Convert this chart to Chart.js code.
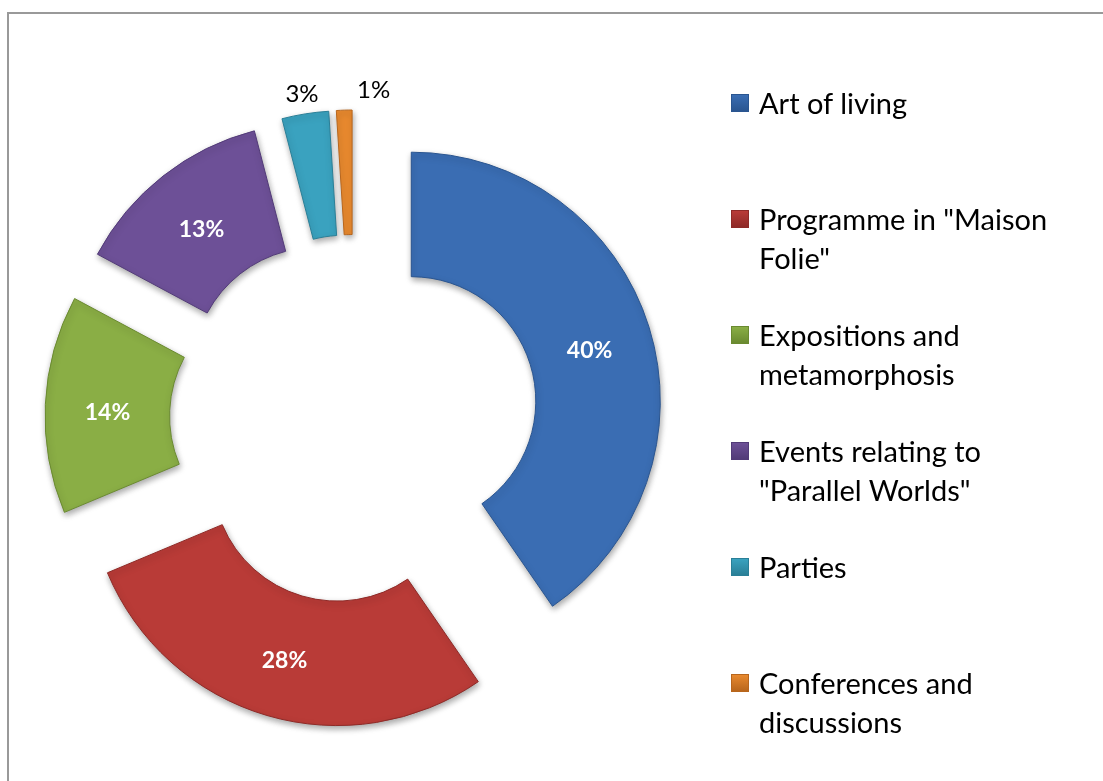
<!DOCTYPE html>
<html>
<head>
<meta charset="utf-8">
<title>Programme breakdown</title>
<script src="https://cdn.jsdelivr.net/npm/chart.js@4.4.0/dist/chart.umd.min.js"></script>
<style>
  html, body { margin: 0; padding: 0; background: #fff; overflow: hidden; }
  #frame { position: absolute; left: 7px; top: 12px; width: 1200px; height: 900px; border: 2px solid #999; }
  #chart { position: absolute; left: 0; top: 0; }
  #legend { position: absolute; left: 731px; top: 83px; font-family: Lato, sans-serif; font-size: 29px; color: #000; }
  .item { position: relative; height: 116px; padding-left: 28px; line-height: 39px; white-space: nowrap; }
  .box { position: absolute; left: 0; top: 11px; width: 18px; height: 18px; box-sizing: border-box; }
</style>
</head>
<body>
<div id="frame"></div>
<canvas id="chart" width="1103" height="781"></canvas>
<div id="legend"></div>
<script>
// categories (legend lines) and shares in percent
const categories = [
    ['Art of living'],
    ['Programme in "Maison', 'Folie"'],
    ['Expositions and', 'metamorphosis'],
    ['Events relating to', '"Parallel Worlds"'],
    ['Parties'],
    ['Conferences and', 'discussions']
];
const shares = [40, 28, 14, 13, 3, 1];

const fillColors = ['#3a6db3', '#b93b37', '#8aae45', '#6d5097', '#3aa2bf', '#e8892e'];
const edgeColors = ['#2a5590', '#8e2a27', '#6a8a30', '#523b78', '#2a7f97', '#b8661c'];

// how far each slice is pulled out of the ring, px
const EXPLODE = 60;
// small labels that sit outside the ring may need a sideways nudge
const outsideNudgeX = [0, 0, 0, 0, 0, 30];

const explodePlugin = {
    id: 'explode',
    afterDatasetsUpdate(chart) {
        chart.getDatasetMeta(0).data.forEach(arc => {
            const mid = (arc.startAngle + arc.endAngle) / 2;
            arc.x += Math.cos(mid) * EXPLODE;
            arc.y += Math.sin(mid) * EXPLODE;
        });
    },
    beforeDatasetsDraw(chart) {
        const ctx = chart.ctx;
        ctx.save();
        ctx.shadowColor = 'rgba(0,0,0,0.35)';
        ctx.shadowBlur = 6;
        ctx.shadowOffsetX = 1;
        ctx.shadowOffsetY = 3;
    },
    afterDatasetsDraw(chart) {
        const ctx = chart.ctx;
        ctx.restore();

        const values = chart.data.datasets[0].data;
        chart.getDatasetMeta(0).data.forEach((arc, i) => {
            const mid = (arc.startAngle + arc.endAngle) / 2;
            const text = values[i] + '%';
            ctx.save();
            ctx.textAlign = 'center';
            ctx.textBaseline = 'middle';
            if (values[i] >= 5) {
                const r = (arc.innerRadius + arc.outerRadius) / 2;
                ctx.font = 'bold 23px Lato, sans-serif';
                ctx.fillStyle = '#fff';
                ctx.fillText(text, arc.x + Math.cos(mid) * r, arc.y + Math.sin(mid) * r + 5);
            } else {
                const r = arc.outerRadius + 20;
                ctx.font = '24px Lato, sans-serif';
                ctx.fillStyle = '#000';
                ctx.fillText(text, arc.x + Math.cos(mid) * r + outsideNudgeX[i], arc.y + Math.sin(mid) * r);
            }
            ctx.restore();
        });
    }
};

new Chart(document.getElementById('chart'), {
    type: 'doughnut',
    data: {
        labels: categories,
        datasets: [{
            data: shares,
            backgroundColor: fillColors,
            borderColor: edgeColors,
            borderWidth: 1
        }]
    },
    options: {
        responsive: false,
        animation: false,
        radius: 249,
        cutout: '50%',
        layout: { padding: { left: 4, right: 399, top: 57, bottom: 0 } },
        plugins: {
            legend: { display: false },
            tooltip: { enabled: false }
        }
    },
    plugins: [explodePlugin]
});

// legend on the right
const legend = document.getElementById('legend');
categories.forEach((lines, i) => {
    const item = document.createElement('div');
    item.className = 'item';
    const box = document.createElement('span');
    box.className = 'box';
    box.style.background = `linear-gradient(${fillColors[i]}, ${edgeColors[i]})`;
    box.style.border = `1px solid ${edgeColors[i]}`;
    item.appendChild(box);
    lines.forEach(line => {
        const div = document.createElement('div');
        div.textContent = line;
        item.appendChild(div);
    });
    legend.appendChild(item);
});
</script>
</body>
</html>
